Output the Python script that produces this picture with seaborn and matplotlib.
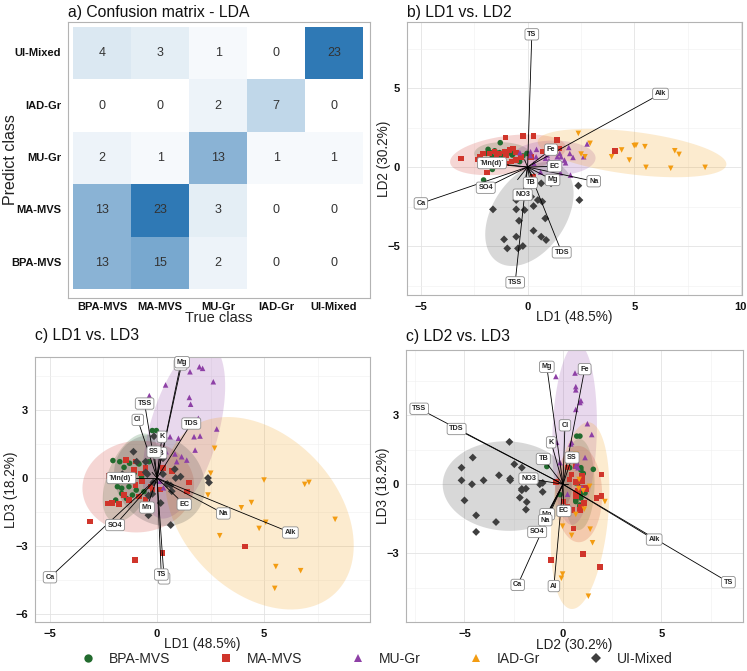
import numpy as np
import pandas as pd
import matplotlib
matplotlib.use("Agg")
import matplotlib.pyplot as plt
from matplotlib.colors import LinearSegmentedColormap
from matplotlib.lines import Line2D
from matplotlib.ticker import MultipleLocator
import seaborn as sns

# confusion matrix (rows = predicted, top to bottom; columns = true class)
true_classes = ["BPA-MVS", "MA-MVS", "MU-Gr", "IAD-Gr", "UI-Mixed"]
pred_classes = ["UI-Mixed", "IAD-Gr", "MU-Gr", "MA-MVS", "BPA-MVS"]
conf_counts = [[4, 3, 1, 0, 23],
               [0, 0, 2, 7, 0],
               [2, 1, 13, 1, 1],
               [13, 23, 3, 0, 0],
               [13, 15, 2, 0, 0]]

# LDA scores per group
bpa_ld1 = [-2.06, -1.93, -1.85, -1.74, -1.65, -1.65, -1.54, -1.43, -1.39, -1.31, -1.28, -1.15, -1.07, -0.97, -0.84, -0.72, -0.61, -0.37, -0.22, -0.03]
bpa_ld2 = [-0.82, 0.86, 1.12, 0.91, 0.65, -0.15, 1.03, 0.86, 0.65, 0.91, 1.54, 0.65, 0.97, 0.80, 0.91, 0.76, 0.91, 0.34, 0.70, 0.86]
bpa_ld3 = [0.77, -0.97, -0.38, 0.72, -0.68, -0.45, 0.47, -0.90, 0.06, -0.38, 0.65, -0.75, 0.21, -0.53, 0.62, 0.06, -0.60, 0.72, 2.09, 2.09]

ma_ld1 = [-2.32, -2.24, -2.09, -1.78, -1.54, -1.54, -1.46, -1.34, -1.31, -1.07, -1.00, -1.00, -0.84, -0.76, -0.69, -0.53, -0.53, -0.30, 0.17, 0.69, -1.03, 4.11, 0.25, -3.13, 0.28, -0.22, 1.39, 1.50, -1.90]
ma_ld2 = [0.49, 0.65, 0.86, 0.86, 0.97, 0.02, 0.65, 0.86, 0.23, 0.97, 0.23, 0.76, 1.08, 0.34, 1.18, 0.44, 0.91, 0.65, 0.65, 0.97, 1.88, 1.03, -0.61, 0.53, 1.96, 1.96, 1.71, 1.18, -0.36]
ma_ld3 = [-1.12, 0.09, -1.09, -1.14, 0.13, -0.75, 0.79, -0.16, -0.97, 0.35, 0.72, -0.30, -0.82, 0.20, -0.16, 0.43, -0.97, -0.38, -0.50, 0.30, -3.60, -3.02, -3.30, -1.92, 0.43, -0.50, -0.60, -0.20, 0.10]

mu_ld1 = [-0.36, 0.14, 0.14, 0.30, 0.40, 0.42, 0.61, 0.84, 0.92, 1.00, 1.15, 1.39, 1.51, 1.54, 1.57, 1.73, 1.78, 1.93, 1.98, 2.01, 2.13, 2.63, 2.79]
mu_ld2 = [0.91, 0.72, 0.97, 0.23, 0.65, 1.12, -0.32, 0.55, 0.76, 0.40, -0.15, 0.65, 0.86, -0.36, 0.65, 0.44, 0.27, 1.24, 0.86, -0.51, 0.61, 0.65, 1.46]
mu_ld3 = [3.63, 0.94, -0.14, -0.43, 4.10, 1.16, 1.82, 1.06, 0.72, 1.75, 0.94, 0.79, 3.55, 4.68, 3.25, 1.82, 1.23, 2.63, 4.90, 1.85, 4.83, 4.24, 2.16]

iad_ld1 = [2.38, 2.51, 2.69, 2.93, 3.94, 4.41, 4.77, 5.00, 5.08, 5.50, 5.55, 6.71, 6.90, 7.10, 8.32]
iad_ld2 = [2.13, 0.82, 0.65, 1.50, 0.65, 1.08, 0.44, 1.35, 1.38, 1.29, -0.02, -0.08, 1.03, 0.80, -0.02]
iad_ld3 = [-0.75, 0.21, 1.31, -2.54, -1.31, -1.08, -2.22, -0.09, -1.95, -4.86, -3.90, -4.08, -0.28, -0.19, -1.82]

ui_ld1 = [0.64, 1.10, 2.38, -0.40, -0.17, 0.17, 2.43, -0.53, 0.48, 0.69, 0.28, -1.62, -0.53, -0.14, 0.83, -0.40, 0.28, 0.64, -0.53, -1.10, 0.87, -0.22, -0.95, -0.45]
ui_ld2 = [-1.03, -1.03, -1.18, -1.84, -1.88, -1.88, -2.09, -2.09, -2.09, -2.19, -2.47, -2.68, -2.68, -2.72, -3.25, -3.40, -4.03, -4.41, -4.41, -4.58, -4.62, -5.00, -5.15, -5.15]
ui_ld3 = [-0.33, 0.06, 0.00, -0.77, -0.19, -1.10, -0.20, 0.72, -0.26, -0.58, 0.87, 0.17, 0.25, 1.84, 0.39, -1.64, 0.17, -2.07, -1.35, 1.16, 0.00, -0.70, 0.72, 0.17]

# variable loadings (scaled)
var_names = ["Fe", "Mg", "TB", "SS", "Al", "TS", "Mn", "Na", "Alk", "EC", "NO3", "TDS", "TSS", "Ca", "SO4", "`Mn(d)`", "Cl", "K"]
var_ld1 = [1.10, 1.17, 0.13, -0.14, 0.33, 0.20, -0.47, 3.10, 6.23, 1.27, -0.23, 1.60, -0.58, -5.00, -1.96, -1.67, -0.90, 0.23]
var_ld2 = [1.10, -0.82, -1.00, 0.46, -0.46, 8.40, -0.80, -0.90, 4.63, 0.05, -1.75, -5.40, -7.30, -2.30, -1.31, 0.25, 0.10, -0.60]
var_ld3 = [5.00, 5.10, 1.10, 1.16, -4.42, -4.25, -1.30, -1.56, -2.40, -1.16, 0.25, 2.40, 3.28, -4.37, -2.07, 0.00, 2.56, 1.82]

colors = {"BPA-MVS": "#226b2e", "MA-MVS": "#d0352b", "MU-Gr": "#8e40a6",
          "IAD-Gr": "#f39c12", "UI-Mixed": "#3f3f3f"}
markers = {"BPA-MVS": "o", "MA-MVS": "s", "MU-Gr": "^", "IAD-Gr": "v", "UI-Mixed": "D"}

sns.set_theme(style="white")
plt.rcParams["font.family"] = ["Liberation Sans", "DejaVu Sans"]

groups = [("BPA-MVS", bpa_ld1, bpa_ld2, bpa_ld3), ("MA-MVS", ma_ld1, ma_ld2, ma_ld3),
          ("MU-Gr", mu_ld1, mu_ld2, mu_ld3), ("IAD-Gr", iad_ld1, iad_ld2, iad_ld3),
          ("UI-Mixed", ui_ld1, ui_ld2, ui_ld3)]
frames = []
for name, a, b, c in groups:
    frames.append(pd.DataFrame({"group": name, "LD1": a, "LD2": b, "LD3": c}))
scores = pd.concat(frames, ignore_index=True)
loadings = pd.DataFrame({"var": var_names, "LD1": var_ld1, "LD2": var_ld2, "LD3": var_ld3})


def trob_ellipse(x, y, level=0.95, nu=5, nseg=120):
    # like ggplot2 stat_ellipse(type = "t"): cov.trob + F radius
    X = np.column_stack([x, y])
    n, p = X.shape
    loc = X.mean(axis=0)
    w = np.ones(n)
    for _ in range(100):
        w0 = w
        d = X - loc
        cov_it = (w[:, None] * d).T @ d / w.sum()
        Q = np.einsum("ij,jk,ik->i", d, np.linalg.inv(cov_it), d)
        w = (nu + p) / (nu + Q)
        loc = (w[:, None] * X).sum(axis=0) / w.sum()
        if np.all(np.abs(w - w0) < 1e-5):
            break
    d = X - loc
    cov = (w[:, None] * d).T @ d / n
    dfd = n - 1
    fq = dfd / 2 * ((1 - level) ** (-2 / dfd) - 1)
    r = np.sqrt(2 * fq)
    t = np.linspace(0, 2 * np.pi, nseg)
    circ = np.column_stack([np.cos(t), np.sin(t)])
    L = np.linalg.cholesky(cov)
    return loc + r * circ @ L.T


def style_axes(ax):
    for s in ax.spines.values():
        s.set_visible(True)
        s.set_color("#b3b3b3")
        s.set_linewidth(0.8)
    ax.tick_params(axis="both", length=3, width=0.6, color="#b3b3b3", pad=2,
                   labelsize=8, labelcolor="#111111")
    for lab in ax.get_xticklabels() + ax.get_yticklabels():
        lab.set_fontweight("bold")


fig = plt.figure(figsize=(7.47, 6.71), dpi=100)
W, H = 747.0, 671.0


def px_axes(x0, y0, x1, y1):
    return fig.add_axes([x0 / W, 1 - y1 / H, (x1 - x0) / W, (y1 - y0) / H])


def px_title(x, y, text):
    fig.text(x / W, 1 - y / H, text, fontsize=11.3, color="#111111", ha="left", va="center")


axis_names = {"LD1": "LD1 (48.5%)", "LD2": "LD2 (30.2%)", "LD3": "LD3 (18.2%)"}


def biplot(ax, xcol, ycol, xlim, ylim, xticks, yticks, xminor, yminor, hide, xlab_y, ylab_x):
    ax.set_axisbelow(True)
    ax.grid(True, which="major", color="#e3e3e3", lw=0.6)
    ax.grid(True, which="minor", color="#f0f0f0", lw=0.4)
    for name in true_classes:
        sub = scores[scores["group"] == name]
        ell = trob_ellipse(sub[xcol].values, sub[ycol].values)
        ax.fill(ell[:, 0], ell[:, 1], color=colors[name], alpha=0.2, lw=0, zorder=1)
    sns.scatterplot(data=scores, x=xcol, y=ycol, hue="group", style="group",
                    palette=colors, markers=markers, s=16, linewidth=0,
                    legend=False, ax=ax, zorder=3)
    for _, row in loadings.iterrows():
        ax.plot([0, row[xcol]], [0, row[ycol]], color="black", lw=0.6, zorder=4)
    for _, row in loadings.iterrows():
        if row["var"] in hide:
            continue
        ax.text(row[xcol], row[ycol], row["var"], fontsize=5.2, fontweight="bold",
                ha="center", va="center", zorder=5,
                bbox=dict(boxstyle="round,pad=0.3", fc="white", ec="#8c8c8c", lw=0.6))
    ax.set_xlim(*xlim)
    ax.set_ylim(*ylim)
    ax.set_xticks(xticks)
    ax.set_yticks(yticks)
    ax.xaxis.set_minor_locator(MultipleLocator(xminor))
    ax.yaxis.set_minor_locator(MultipleLocator(yminor))
    ax.tick_params(which="minor", length=0)
    ax.set_xlabel(axis_names[xcol], fontsize=9.8, color="#222222")
    ax.set_ylabel(axis_names[ycol], fontsize=9.8, color="#222222")
    ax.xaxis.set_label_coords(0.5, xlab_y)
    ax.yaxis.set_label_coords(ylab_x, 0.5)
    style_axes(ax)


# a) confusion matrix
ax_a = px_axes(68, 22, 370, 298)
cm = pd.DataFrame(conf_counts, index=pred_classes, columns=true_classes)
cmap = LinearSegmentedColormap.from_list("cm_blues", ["#ffffff", "#2f79b5"])
sns.heatmap(cm, annot=True, fmt="d", cmap=cmap, vmin=0, vmax=23, cbar=False, ax=ax_a,
            annot_kws={"fontsize": 9, "color": "#333333"})
ax_a.set_xlim(-0.09, 5.12)
ax_a.set_ylim(5.17, -0.095)
ax_a.set_xlabel("True class", fontsize=10.5, color="#222222")
ax_a.set_ylabel("Predict class", fontsize=11.5, color="#222222")
ax_a.xaxis.set_label_coords(0.5, -0.048)
ax_a.yaxis.set_label_coords(-0.166, 0.5)
style_axes(ax_a)
ax_a.tick_params(axis="x", rotation=0, pad=1, length=2)
ax_a.tick_params(axis="y", rotation=0)
px_title(68, 12, "a) Confusion matrix - LDA")

# b) LD1 vs LD2
ax_b = px_axes(407, 22, 742, 295)
biplot(ax_b, "LD1", "LD2", (-5.65, 10.05), (-8.1, 9.18), [-5, 0, 5, 10], [-5, 0, 5],
       2.5, 2.5, ["Cl", "K", "SS", "Mn", "Al"], -0.056, -0.048)
px_title(407, 12, "b) LD1 vs. LD2")

# c) LD1 vs LD3
ax_c = px_axes(35, 357, 370, 622)
biplot(ax_c, "LD1", "LD3", (-5.7, 9.95), (-6.34, 5.33), [-5, 0, 5], [-6, -3, 0, 3],
       2.5, 1.5, ["NO3"], -0.058, -0.051)
px_title(35, 335, "c) LD1 vs. LD3")

# d) LD2 vs LD3
ax_d = px_axes(406, 350, 743, 622)
biplot(ax_d, "LD2", "LD3", (-7.97, 9.14), (-5.98, 5.83), [-5, 0, 5], [-3, 0, 3],
       2.5, 1.5, ["`Mn(d)`"], -0.057, -0.047)
px_title(406, 337, "c) LD2 vs. LD3")

# shared legend
legend_markers = {"BPA-MVS": "o", "MA-MVS": "s", "MU-Gr": "^", "IAD-Gr": "^", "UI-Mixed": "D"}
handles = [Line2D([0], [0], marker=legend_markers[n], color="none", markerfacecolor=colors[n],
                  markeredgewidth=0, markersize=6 if legend_markers[n] != "D" else 5)
           for n in true_classes]
fig.legend(handles, true_classes, loc="center", bbox_to_anchor=(0.5, 1 - 659 / H), ncol=5,
           frameon=False, fontsize=10, columnspacing=3.0, handletextpad=0.5)

fig.savefig("out.png", dpi=100)
